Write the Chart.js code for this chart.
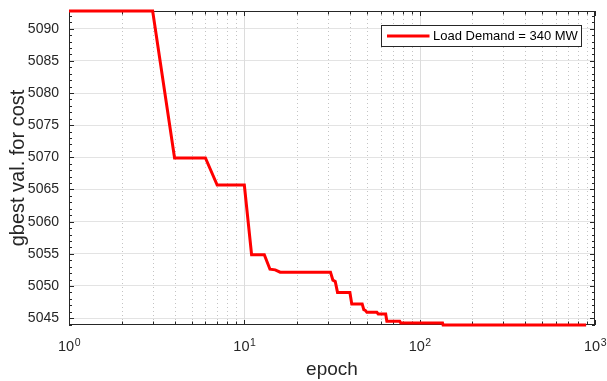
<!DOCTYPE html>
<html>
<head>
<meta charset="utf-8">
<script src="https://cdn.jsdelivr.net/npm/chart.js@4.4.1/dist/chart.umd.min.js"></script>
<style>
    html, body { margin: 0; padding: 0; background: #fff; }
    #wrap { width: 607px; height: 381px; }
</style>
</head>
<body>
<div id="wrap"><canvas id="chartGbest" width="607" height="381"></canvas></div>
<script>
// valores (solo los puntos donde cambia)
const epocas = [1, 3, 4, 6, 7, 10, 11, 13, 14, 15, 16, 31, 32, 33, 34, 40, 41, 47, 48, 49, 50, 57, 58, 64, 65, 77, 78, 135, 136, 890];
const gbest = [5092.75, 5092.75, 5069.9, 5069.9, 5065.7, 5065.7, 5054.85, 5054.85, 5052.6, 5052.5, 5052.15, 5052.15,
    5050.9, 5050.7, 5049.0, 5049.0, 5047.2, 5047.2, 5046.3, 5046.2, 5045.9, 5045.9, 5045.65, 5045.65,
    5044.5, 5044.5, 5044.25, 5044.25, 5043.93, 5043.93];
const decadas = [1, 10, 100, 1000];
const etiquetaSerie = 'Load Demand = 340 MW';

const FUENTE = '"Liberation Sans", Arial, Helvetica, sans-serif';
const GRIS = '#262626';

const ejesMatlab = {
    id: 'ejesMatlab',
    beforeDatasetsDraw(chart) {
        const {ctx, chartArea: a, scales: {x, y}} = chart;
        ctx.save();
        // rejilla vertical
        x.ticks.forEach(t => {
            if (t.value <= x.min || t.value >= x.max) return;
            const px = Math.round(x.getPixelForValue(t.value)) + 0.5;
            ctx.beginPath();
            if (t.major) {
                ctx.strokeStyle = '#dcdcdc';
                ctx.setLineDash([]);
            } else {
                ctx.strokeStyle = '#c4c4c4';
                ctx.setLineDash([1, 3]);
            }
            ctx.lineWidth = 1;
            ctx.moveTo(px, a.top);
            ctx.lineTo(px, a.bottom);
            ctx.stroke();
        });
        ctx.setLineDash([]);

        // caja
        ctx.strokeStyle = GRIS;
        ctx.lineWidth = 1;
        ctx.strokeRect(a.left + 0.5, a.top + 0.5, a.width - 1, a.height - 1);

        // marcas x (hacia adentro, abajo y arriba)
        ctx.beginPath();
        x.ticks.forEach(t => {
            const px = Math.round(x.getPixelForValue(t.value)) + 0.5;
            const len = t.major ? 5 : 3.5;
            ctx.moveTo(px, a.bottom);
            ctx.lineTo(px, a.bottom - len);
            ctx.moveTo(px, a.top);
            ctx.lineTo(px, a.top + len);
        });
        // marcas y menores y mayores
        for (let v = Math.ceil(y.min); v <= Math.floor(y.max); v++) {
            const py = Math.round(y.getPixelForValue(v)) + 0.5;
            const len = v % 5 === 0 ? 5 : 3;
            ctx.moveTo(a.left, py);
            ctx.lineTo(a.left + len, py);
            ctx.moveTo(a.right, py);
            ctx.lineTo(a.right - len, py);
        }
        ctx.stroke();
        ctx.restore();
    },
    afterDraw(chart) {
        const {ctx, chartArea: a, scales: {x}} = chart;
        ctx.save();
        // etiquetas 10^n
        ctx.fillStyle = GRIS;
        ctx.textBaseline = 'alphabetic';
        ctx.textAlign = 'left';
        x.ticks.filter(t => t.major).forEach(t => {
            const px = x.getPixelForValue(t.value);
            const exp = String(Math.round(Math.log10(t.value)));
            ctx.font = '14.5px ' + FUENTE;
            const wBase = ctx.measureText('10').width;
            ctx.font = '10.5px ' + FUENTE;
            const wExp = ctx.measureText(exp).width;
            const x0 = px - (wBase + wExp) / 2;
            ctx.font = '14.5px ' + FUENTE;
            ctx.fillText('10', x0, a.bottom + 25.5);
            ctx.font = '10.5px ' + FUENTE;
            ctx.fillText(exp, x0 + wBase + 0.5, a.bottom + 20.5);
        });

        // leyenda
        const ds = chart.data.datasets[0];
        const bx = a.right - 213.5, by = a.top + 14.5, bw = 200, bh = 21;
        ctx.fillStyle = '#fff';
        ctx.fillRect(bx, by, bw, bh);
        ctx.strokeStyle = GRIS;
        ctx.lineWidth = 1;
        ctx.strokeRect(bx, by, bw, bh);
        ctx.strokeStyle = ds.borderColor;
        ctx.lineWidth = 3;
        ctx.beginPath();
        ctx.moveTo(bx + 5.5, by + 10.5);
        ctx.lineTo(bx + 48, by + 10.5);
        ctx.stroke();
        ctx.fillStyle = '#000';
        ctx.font = '13px ' + FUENTE;
        ctx.textBaseline = 'middle';
        ctx.fillText(ds.label, bx + 51.5, by + 11);
        ctx.restore();
    }
};

iniciarGrafico();

function iniciarGrafico() {
    const ctx = document.getElementById('chartGbest');

    const dataGrafico = {
        datasets: [{
            label: etiquetaSerie,
            data: epocas.map((e, i) => ({x: e, y: gbest[i]})),
            borderColor: '#ff0000',
            borderWidth: 3,
            pointRadius: 0,
            tension: 0,
            fill: false,
            clip: false
        }]
    };

    new Chart(ctx, {
        type: 'line',
        data: dataGrafico,
        plugins: [ejesMatlab],
        options: {
            responsive: false,
            animation: false,
            devicePixelRatio: 1,
            layout: {padding: {top: 11, right: 12, bottom: 0, left: 0}},
            plugins: {
                legend: {display: false},
                tooltip: {enabled: false}
            },
            scales: {
                x: {
                    type: 'logarithmic',
                    min: decadas[0],
                    max: decadas[decadas.length - 1],
                    afterBuildTicks: scale => {
                        const ticks = [];
                        decadas.forEach((d, i) => {
                            if (i === decadas.length - 1) {
                                ticks.push({value: d, major: true});
                                return;
                            }
                            for (let k = 1; k <= 9; k++) ticks.push({value: k * d, major: k === 1});
                        });
                        scale.ticks = ticks;
                    },
                    afterFit: scale => {
                        scale.height = 56;
                        scale.paddingLeft = 0;
                        scale.paddingRight = 0;
                    },
                    ticks: {display: false, autoSkip: false},
                    grid: {display: false},
                    border: {display: false},
                    title: {
                        display: true,
                        text: 'epoch',
                        color: GRIS,
                        font: {family: FUENTE, size: 19},
                        padding: {top: 0, bottom: 0}
                    }
                },
                y: {
                    type: 'linear',
                    min: Math.min(...gbest),
                    max: Math.max(...gbest),
                    afterFit: scale => {
                        scale.width = 69;
                        scale.paddingTop = 0;
                        scale.paddingBottom = 0;
                    },
                    ticks: {
                        stepSize: 5,
                        includeBounds: false,
                        padding: 10,
                        color: GRIS,
                        font: {family: FUENTE, size: 14},
                        callback: v => String(v)
                    },
                    grid: {color: '#e3e3e3', lineWidth: 1, drawTicks: false},
                    border: {display: false},
                    title: {
                        display: true,
                        text: 'gbest val. for cost',
                        color: GRIS,
                        font: {family: FUENTE, size: 20},
                        padding: {top: 6, bottom: 0}
                    }
                }
            }
        }
    });
}
</script>
</body>
</html>
